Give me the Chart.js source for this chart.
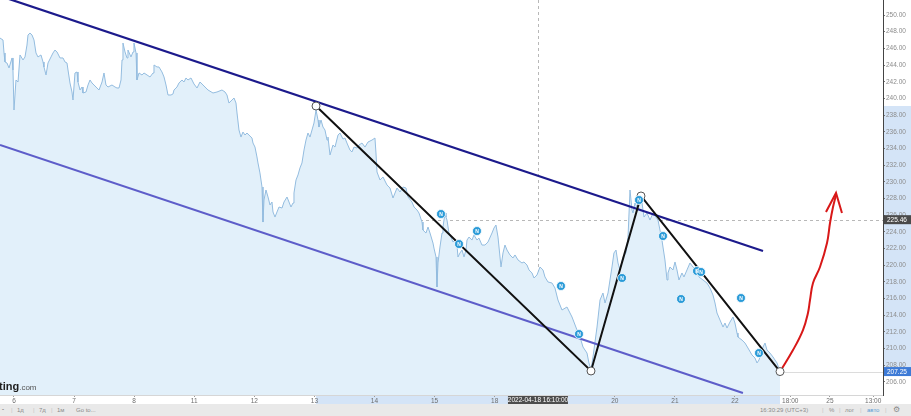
<!DOCTYPE html>
<html>
<head>
<meta charset="utf-8">
<script src="https://cdn.jsdelivr.net/npm/chart.js@4.4.0/dist/chart.umd.min.js"></script>
<style>
  html,body{margin:0;padding:0;background:#fff;}
  #wrap{position:relative;width:911px;height:416px;overflow:hidden;font-family:"Liberation Sans",Arial,sans-serif;}
  canvas{position:absolute;left:0;top:0;}
  #bar{position:absolute;left:0;top:404px;width:911px;height:12px;background:#e9e9e9;color:#8a8a8a;font-size:6px;}
  #bar span{position:absolute;top:3px;white-space:nowrap;}
  #wm{position:absolute;left:-1px;top:376px;white-space:nowrap;}
  #wm b{font-size:11px;color:#1e1e1e;font-weight:bold;}
  #wm i{font-style:normal;font-size:8px;color:#555;}
</style>
</head>
<body>
<div id="wrap">
<canvas id="c" width="911" height="416"></canvas>
<div id="wm"><b>ting</b><i>.com</i></div>
<div id="bar">
  <span style="left:2px">⁼</span>
  <span style="left:11px;color:#c4c4c4">|</span>
  <span style="left:17px">1д</span>
  <span style="left:33px;color:#c4c4c4">|</span>
  <span style="left:39px">7д</span>
  <span style="left:51px;color:#c4c4c4">|</span>
  <span style="left:57px">1м</span>
  <span style="left:76px">Go to...</span>
  <span style="left:760px">16:30:29 (UTC+3)</span>
  <span style="left:822px;color:#c4c4c4">|</span>
  <span style="left:829px">%</span>
  <span style="left:839px;color:#c4c4c4">|</span>
  <span style="left:845px">лог</span>
  <span style="left:860px;color:#c4c4c4">|</span>
  <span style="left:867px;color:#5b9bd5">авто</span>
  <span style="left:885px;color:#c4c4c4">|</span>
  <span style="left:893px;font-size:8px;top:1px">⚙</span>
</div>
</div>
<script>
// ---- x axis: trading-day index (6 Apr = 0) ----
const xTickPos    = [0, 1, 2, 3, 4, 5, 6, 7, 8, 10, 11, 12, 12.92, 13.58, 14.30];
const xTickLabels = ['6','7','8','11','12','13','14','15','18','20','21','22','18:00','25','13:00'];
const yTickValues = [206,208,210,212,214,216,218,220,222,224,226,228,230,232,234,236,238,240,242,244,246,248,250];

// ---- price series ----
const priceTime = [
-0.233,-0.183,-0.166,-0.150,-0.117,-0.083,-0.033,-0.017,0,0.033,0.067,0.100,0.150,0.183,0.216,0.233,0.266,0.300,0.333,0.366,0.399,0.449,0.483,0.499,0.533,0.566,0.616,0.649,0.682,0.716,0.766,0.816,0.849,0.882,0.899,0.932,0.965,0.982,
1.015,1.049,1.065,1.099,1.132,1.148,1.198,1.232,1.265,1.298,1.332,1.381,1.415,1.465,1.498,1.531,1.565,1.631,1.681,1.714,1.748,1.781,1.798,1.814,1.848,1.881,1.897,1.947,1.981,1.997,
2.031,2.047,2.081,2.130,2.164,2.214,2.264,2.314,2.330,2.380,2.413,2.463,2.497,2.530,2.563,2.613,2.646,2.663,2.713,2.746,2.796,2.829,2.863,2.896,2.946,2.996,
3.046,3.096,3.146,3.229,3.312,3.379,3.462,3.512,3.545,3.578,3.628,3.662,3.695,3.712,3.745,3.778,3.811,3.845,3.878,3.911,3.961,3.978,
4.011,4.044,4.061,4.094,4.128,4.144,4.161,4.194,4.228,4.261,4.294,4.311,4.344,4.377,4.411,4.461,4.494,4.544,4.577,4.610,4.644,4.660,4.694,4.727,4.760,4.793,4.827,4.860,4.893,4.927,4.960,4.993,
5.027,5.060,5.076,5.110,5.143,5.176,5.210,5.226,5.260,5.309,5.343,5.393,5.426,5.476,5.509,5.542,5.592,5.626,5.659,5.709,5.742,5.792,5.842,5.892,5.959,
6.008,6.025,6.042,6.092,6.142,6.208,6.258,6.308,6.375,6.425,6.475,6.524,6.558,6.624,6.658,6.708,6.741,6.791,6.807,6.857,6.891,6.924,6.974,6.990,
7.024,7.040,7.057,7.090,7.124,7.140,7.174,7.190,7.207,7.240,7.273,7.307,7.340,7.373,7.390,7.423,7.457,7.490,7.523,7.540,7.573,7.623,7.656,7.706,7.739,7.789,7.839,7.889,7.956,7.989,
8.022,8.056,8.106,8.139,8.172,8.206,8.255,8.305,8.339,8.389,8.455,8.488,8.538,8.572,8.622,8.655,8.705,8.755,8.805,8.838,8.888,8.954,
9.004,9.054,9.121,9.204,9.288,9.371,9.421,9.471,9.537,9.570,9.604,9.637,9.704,9.754,9.803,9.837,9.887,9.953,9.986,
10.020,10.053,10.086,10.136,10.186,10.220,10.253,10.286,10.303,10.336,10.369,10.403,10.453,10.486,10.536,10.586,10.636,10.685,10.719,10.752,10.785,10.802,10.835,10.869,10.885,10.918,10.968,
11.002,11.035,11.068,11.118,11.151,11.201,11.251,11.301,11.368,11.401,11.468,11.534,11.584,11.634,11.668,11.701,11.751,11.801,11.834,11.867,11.917,11.967,
12.000,12.034,12.050,12.117,12.167,12.217,12.283,12.333,12.367,12.400,12.467,12.500,12.533,12.583,12.633,12.666,12.700,12.750
];
const priceValue = [
247.24,247.00,245.45,244.37,244.25,243.65,244.85,243.41,238.61,242.21,241.97,245.21,244.61,244.97,246.40,247.60,247.84,247.60,247.00,245.45,244.97,245.21,244.37,243.77,242.81,244.25,244.97,245.45,245.80,245.57,244.85,244.85,244.37,244.25,243.41,241.85,240.77,239.81,
243.05,243.17,241.97,241.01,241.37,240.65,240.77,241.61,242.21,241.85,241.61,241.25,241.01,241.97,243.05,241.61,241.37,241.61,241.37,241.25,241.25,242.21,244.61,246.64,245.57,244.85,245.80,244.97,245.57,246.64,
245.45,242.21,243.05,242.81,243.05,242.81,242.57,243.05,244.01,243.77,243.77,243.17,242.57,241.61,240.41,240.41,240.53,241.01,241.37,241.85,242.21,241.97,242.45,242.21,242.45,241.73,
241.25,241.97,241.61,241.01,240.65,240.77,241.01,240.77,240.41,239.45,239.81,240.05,239.45,238.25,236.21,235.37,235.97,235.61,235.85,235.61,235.25,234.65,
234.17,232.98,232.26,231.06,229.38,225.18,227.82,229.02,228.18,227.22,227.58,226.38,225.78,226.38,226.98,226.86,227.58,228.18,227.58,226.98,227.46,228.66,230.22,230.82,231.66,232.26,233.81,235.01,235.85,235.37,236.21,237.05,
238.61,237.41,236.57,237.41,236.57,236.21,235.01,235.37,233.22,234.41,234.17,235.61,235.85,235.13,235.25,234.65,233.81,233.58,234.17,234.05,234.41,234.65,234.17,234.77,235.01,
235.25,233.46,231.18,230.22,230.58,229.62,229.26,228.06,229.26,228.78,229.38,229.26,228.18,227.58,226.98,226.62,226.26,225.18,224.22,223.86,224.58,223.86,222.66,222.06,
220.99,217.39,220.27,222.18,223.86,224.58,226.26,225.78,225.42,223.86,223.38,222.78,223.02,222.42,220.99,221.47,221.82,220.99,221.82,223.02,223.38,223.02,223.62,223.02,223.26,222.42,222.42,222.78,223.86,224.46,
224.82,223.38,219.79,221.47,222.42,221.82,221.23,220.87,221.23,220.63,220.27,220.39,220.03,219.43,219.07,218.47,218.83,219.79,219.43,218.59,217.99,217.87,
217.27,215.83,214.63,214.99,213.79,212.23,211.39,210.19,209.47,208.28,207.44,209.00,212.59,215.83,216.67,215.47,216.67,219.79,221.47,
221.82,220.27,219.43,220.99,221.47,223.38,229.02,226.62,226.26,227.46,226.98,227.82,227.46,225.78,226.26,225.42,226.26,225.78,225.42,224.22,223.02,222.18,220.63,218.23,219.07,219.79,219.43,
220.39,219.43,218.23,219.07,218.59,219.43,220.27,219.79,219.43,218.59,218.23,217.87,217.27,216.43,215.47,214.27,213.43,212.59,213.07,212.47,213.19,213.79,
213.07,211.87,211.39,211.03,210.67,210.07,209.24,208.88,208.28,208.64,210.19,210.67,209.83,209.47,209.00,208.64,208.28,207.25
];

// ---- drawings ----
const upperChannelTime  = [-0.233, 12.467];
const upperChannelValue = [252.28, 221.71];
const lowerChannelTime  = [-0.233, 12.133];
const lowerChannelValue = [234.41, 204.68];
const zigzagTime  = [5.027, 9.604, 10.436, 12.750];
const zigzagValue = [239.09, 207.32, 228.30, 207.25];
const arrowTime  = [12.750, 12.966, 13.132, 13.215, 13.249, 13.299, 13.415, 13.532, 13.582, 13.632, 13.682];
const arrowValue = [207.25, 209.83, 212.23, 214.27, 215.83, 217.87, 219.79, 222.66, 225.06, 226.98, 228.42];
const arrowHeadTime  = [13.515, 13.682, 13.781];
const arrowHeadValue = [226.38, 228.66, 226.26];
const newsTime  = [7.107, 7.407, 7.706, 9.104, 9.404, 10.120, 10.403, 10.802, 11.102, 11.368, 11.434, 12.100, 12.400];
const newsValue = [226.14, 222.54, 224.10, 217.51, 211.75, 218.47, 227.82, 223.50, 215.95, 219.31, 219.19, 216.07, 209.47];

const lastPrice = 207.25;
const crossPrice = 225.46;
const crossTime = 8.721;
const crossLabel = '2022-04-18 16:10:00';

const pts = (t, v) => t.map((x, i) => ({x: x, y: v[i]}));
const noPad = s => { s.paddingLeft = 0; s.paddingRight = 0; s.paddingTop = 0; s.paddingBottom = 0; };

const decor = {
  id: 'decor',
  beforeDraw(chart) {
    const {ctx, scales:{x, y}, chartArea:a} = chart;
    ctx.save();
    ctx.fillStyle = '#d4e4f7';
    const x1 = x.getPixelForValue(zigzagTime[0]), x2 = x.getPixelForValue(zigzagTime[3]);
    ctx.fillRect(x1, a.bottom, x2 - x1, x.bottom - a.bottom);
    const y1 = y.getPixelForValue(zigzagValue[0]), y2 = y.getPixelForValue(lastPrice);
    ctx.fillRect(a.right, y1, y.right - a.right, y2 - y1);
    ctx.restore();
  },
  beforeDatasetsDraw(chart) {
    const {ctx, scales:{x, y}, chartArea:a} = chart;
    ctx.save();
    ctx.lineWidth = 1;
    ctx.strokeStyle = '#b8b8b8';
    ctx.setLineDash([3, 3]);
    const cx = Math.round(x.getPixelForValue(crossTime)) + 0.5;
    ctx.beginPath(); ctx.moveTo(cx, a.top); ctx.lineTo(cx, a.bottom); ctx.stroke();
    const cy = Math.round(y.getPixelForValue(crossPrice)) + 0.5;
    ctx.beginPath(); ctx.moveTo(a.left, cy); ctx.lineTo(a.right, cy); ctx.stroke();
    ctx.setLineDash([]);
    ctx.strokeStyle = '#dcdcdc';
    const ly = Math.round(y.getPixelForValue(lastPrice)) + 0.5;
    ctx.beginPath(); ctx.moveTo(a.left, ly); ctx.lineTo(a.right, ly); ctx.stroke();
    ctx.restore();
  },
  afterDatasetsDraw(chart) {
    const {ctx} = chart;
    const meta = chart.getDatasetMeta(6);
    ctx.save();
    ctx.fillStyle = '#ffffff';
    ctx.font = 'bold 5px "Liberation Sans", Arial';
    ctx.textAlign = 'center';
    ctx.textBaseline = 'middle';
    meta.data.forEach(p => ctx.fillText('N', p.x, p.y + 0.5));
    ctx.restore();
  },
  afterDraw(chart) {
    const {ctx, scales:{x, y}, chartArea:a} = chart;
    ctx.save();
    ctx.font = '6.5px "Liberation Sans", Arial';
    ctx.textBaseline = 'middle';
    const box = (val, bg) => {
      const py = y.getPixelForValue(val);
      ctx.fillStyle = bg;
      ctx.fillRect(a.right + 1, py - 4.5, y.right - a.right - 1, 9);
      ctx.fillStyle = '#ffffff';
      ctx.textAlign = 'left';
      ctx.fillText(val.toFixed(2), a.right + 4, py + 0.5);
    };
    box(crossPrice, '#4a4a4a');
    box(lastPrice, '#3d7ad6');
    const cx = x.getPixelForValue(crossTime);
    ctx.fillStyle = '#4d4d4d';
    ctx.fillRect(cx - 30, a.bottom + 1, 60, 8);
    ctx.fillStyle = '#ffffff';
    ctx.textAlign = 'center';
    ctx.fillText(crossLabel, cx, a.bottom + 5.5);
    ctx.restore();
  }
};

new Chart(document.getElementById('c'), {
  type: 'line',
  data: {
    datasets: [
      { label: 'price', data: pts(priceTime, priceValue), borderColor: '#93bcdf', borderWidth: 1,
        backgroundColor: '#e2f0fa', fill: 'start', pointRadius: 0, tension: 0, order: 10 },
      { label: 'lower channel', data: pts(lowerChannelTime, lowerChannelValue), borderColor: '#5d5dc9', borderWidth: 2,
        pointRadius: 0, fill: false, order: 9 },
      { label: 'upper channel', data: pts(upperChannelTime, upperChannelValue), borderColor: '#1c1a8c', borderWidth: 2.2,
        pointRadius: 0, fill: false, order: 8 },
      { label: 'zigzag', data: pts(zigzagTime, zigzagValue), borderColor: '#111111', borderWidth: 2,
        pointRadius: 0, fill: false, order: 5 },
      { label: 'arrow', data: pts(arrowTime, arrowValue), borderColor: '#d81818', borderWidth: 2,
        pointRadius: 0, fill: false, tension: 0.4, order: 4 },
      { label: 'arrow head', data: pts(arrowHeadTime, arrowHeadValue), borderColor: '#d81818', borderWidth: 2,
        pointRadius: 0, fill: false, order: 4 },
      { label: 'news', data: pts(newsTime, newsValue), showLine: false, pointRadius: 4.5,
        pointBackgroundColor: '#2b9bd8', pointBorderColor: '#ffffff', pointBorderWidth: 0.8, order: 1 },
      { label: 'pivots', data: pts(zigzagTime, zigzagValue), showLine: false, pointRadius: 4,
        pointBackgroundColor: '#ffffff', pointBorderColor: '#555555', pointBorderWidth: 1, order: 2 }
    ]
  },
  options: {
    responsive: false,
    devicePixelRatio: 1,
    animation: false,
    events: [],
    layout: { autoPadding: false, padding: { left: 0, right: 0, top: 0, bottom: 12 } },
    plugins: { legend: { display: false }, tooltip: { enabled: false } },
    scales: {
      x: {
        type: 'linear', min: -0.233, max: 14.464,
        afterBuildTicks: s => { s.ticks = xTickPos.map(v => ({ value: v })); },
        afterFit: s => { s.height = 9; noPad(s); },
        ticks: { autoSkip: false, maxRotation: 0, padding: 0, color: '#6e6e6e',
                 font: { size: 6.5, family: '"Liberation Sans", Arial' },
                 callback: (v, i) => xTickLabels[i] },
        grid: { drawOnChartArea: false, drawTicks: true, tickLength: 2, color: '#9a9a9a' },
        border: { display: true, color: '#d6d6d6' }
      },
      y: {
        type: 'linear', position: 'right', min: 204.44, max: 251.80,
        afterBuildTicks: s => { s.ticks = yTickValues.map(v => ({ value: v })); },
        afterFit: s => { s.width = 28; noPad(s); },
        ticks: { padding: 1, color: '#8c8c8c', font: { size: 6.5, family: '"Liberation Sans", Arial' },
                 callback: v => Number(v).toFixed(2) },
        grid: { drawOnChartArea: false, drawTicks: true, tickLength: 2, color: '#777777' },
        border: { display: true, color: '#444444' }
      }
    }
  },
  plugins: [decor]
});
</script>
</body>
</html>
